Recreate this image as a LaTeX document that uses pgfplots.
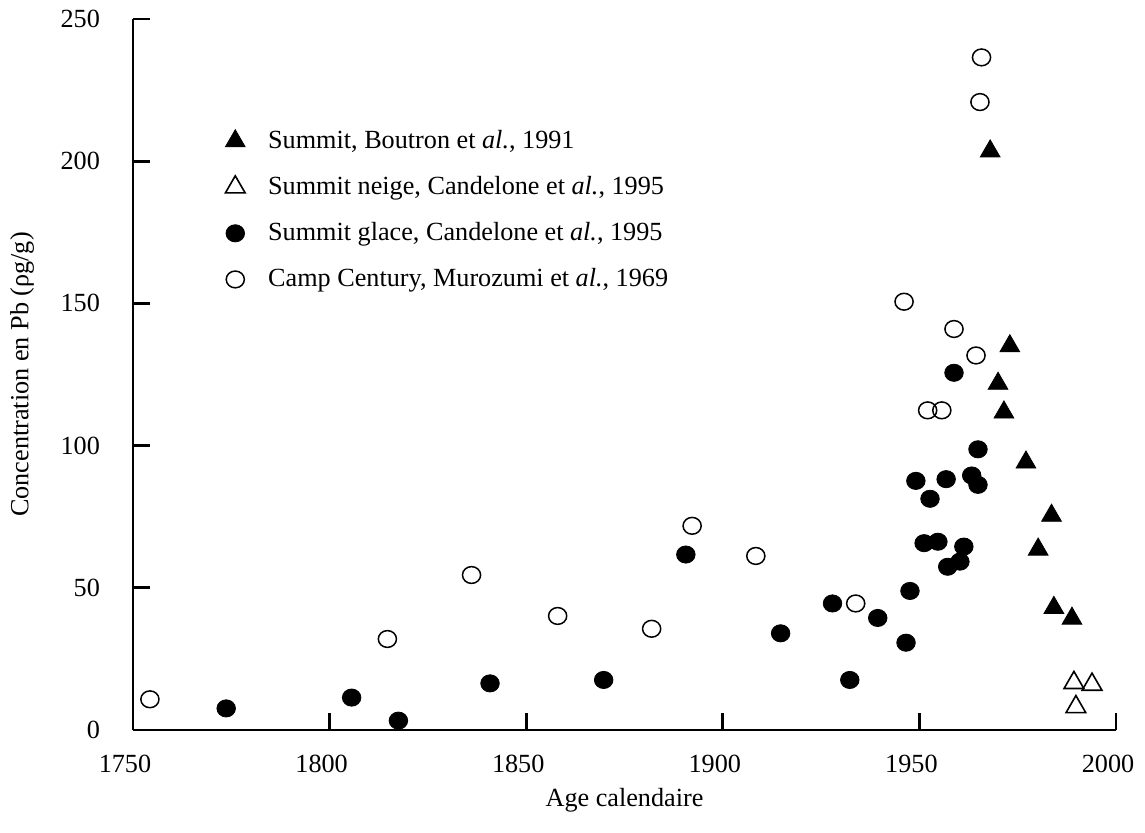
\documentclass[border=0pt]{standalone}
\usepackage{fontspec}
\setmainfont{Liberation Serif}
\usepackage{pgfplots}
\pgfplotsset{compat=1.18}
\begin{document}
\fontsize{13.1}{15.5}\selectfont
\begin{tikzpicture}
\begin{axis}[
  scale only axis,
  width=491.5pt, height=355.5pt,
  xmin=1750, xmax=2000, ymin=0, ymax=250,
  axis lines=left,
  axis line style={-, line width=1.4pt, black},
  xtick={1750,1800,1850,1900,1950,2000},
  ytick={0,50,100,150,200,250},
  tick align=inside,
  major tick length=8.5pt,
  every tick/.style={black, line width=1.4pt},
  /pgf/number format/1000 sep={},
  /pgf/number format/assume math mode=true,
  yticklabel style={xshift=-12pt},
  xticklabel style={yshift=-8pt, xshift=-4pt},
  xlabel={Age calendaire},
  xlabel style={at={(axis description cs:0.5,0)}, anchor=center, yshift=-35pt},
  ylabel={Concentration en Pb (ρg/g)},
  ylabel style={at={(axis description cs:-0.1129,0.5)}, anchor=center},
  clip=false,
  legend cell align=left,
  legend style={at={(axis description cs:0.0936,0.85)}, anchor=north west,
    draw=none, fill=none, row sep=8pt, column sep=9.5pt, inner sep=0pt},
]
\addplot[only marks, mark=triangle*, mark size=5.7pt, mark options={fill=black, draw=black}] coordinates {
(1968.0,203.5) (1973.0,135.0) (1970.0,121.8) (1971.5,111.7) (1977.1,94.1)
(1983.6,75.4) (1980.2,63.5) (1984.2,43.0) (1988.8,39.2)
};
\addlegendentry{Summit, Boutron et \textit{al.}, 1991}
\addplot[only marks, mark=triangle, mark size=5.7pt, mark options={draw=black, fill=white, line width=0.8pt}] coordinates {
(1989.3,16.6) (1993.9,16.0) (1989.8,8.1)
};
\addlegendentry{Summit neige, Candelone et \textit{al.}, 1995}
\addplot[only marks, mark=*, mark size=4.3pt, mark options={fill=black, draw=black, xscale=1.08}] coordinates {
(1773.7,7.6) (1805.6,11.4) (1817.5,3.3) (1840.8,16.4) (1869.7,17.6)
(1890.6,61.7) (1914.7,34.0) (1927.9,44.5) (1932.3,17.6) (1939.4,39.4)
(1946.6,30.7) (1947.6,48.9) (1949.1,87.6) (1951.2,65.7) (1952.7,81.3)
(1954.7,66.2) (1956.8,88.2) (1957.2,57.4) (1958.8,125.6) (1960.3,59.2)
(1961.3,64.5) (1963.3,89.5) (1964.9,86.2) (1964.9,98.7)
};
\addlegendentry{Summit glace, Candelone et \textit{al.}, 1995}
\addplot[only marks, mark=o, mark size=4.2pt, mark options={draw=black, fill=white, line width=0.75pt, xscale=1.08}] coordinates {
(1754.3,10.8) (1814.7,32.0) (1836.1,54.5) (1858.0,40.1) (1881.9,35.6)
(1892.2,71.8) (1908.4,61.2) (1933.8,44.5) (1946.1,150.6) (1952.1,112.4)
(1955.7,112.4) (1958.8,141.0) (1964.4,131.7) (1965.4,220.8) (1965.8,236.5)
};
\addlegendentry{Camp Century, Murozumi et \textit{al.}, 1969}
\end{axis}
\pgfresetboundingbox
\useasboundingbox (-66.5pt,-51pt) rectangle (506pt,365pt);
\end{tikzpicture}
\end{document}
